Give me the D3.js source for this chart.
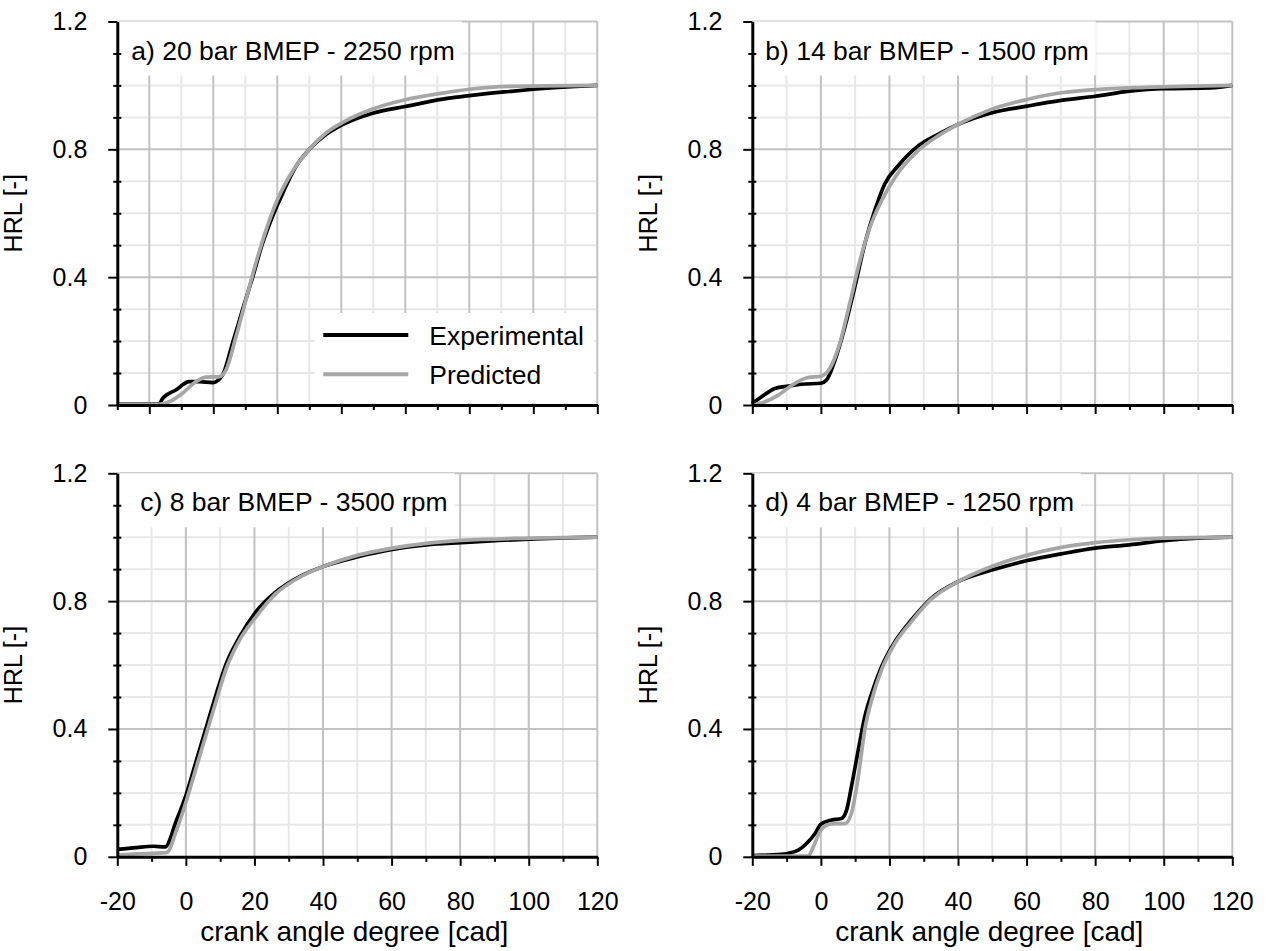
<!DOCTYPE html>
<html>
<head>
<meta charset="utf-8">
<script src="https://cdn.jsdelivr.net/npm/d3@7"></script>
<style>
  body { margin: 0; background: #fff; }
  text { font-family: "Liberation Sans", Arial, sans-serif; fill: #000; }
</style>
</head>
<body>
<div id="chart"></div>
<script>
// crank angle [cad], heat release fraction [-]
var expA = [[-30,0.003],[-17,0.003],[-15.8,0.021],[-11.7,0.047],[-7.5,0.073],[-4.4,0.073],[-0.2,0.07],[2.9,0.094],[6,0.193],[9.2,0.30],[12.3,0.40],[15.4,0.506],[18.5,0.59],[21.7,0.663],[25.8,0.746],[30,0.80],[35.2,0.846],[40.4,0.877],[49.8,0.913],[60,0.934],[71.7,0.957],[80,0.968],[92.5,0.981],[100,0.988],[113.3,0.997],[120,1.0]];
var predA = [[-30,0.002],[-16.9,0.002],[-13.75,0.01],[-9.6,0.037],[-5.4,0.073],[-2.3,0.087],[1.9,0.089],[4,0.11],[7.1,0.214],[10.2,0.329],[13.3,0.444],[16.5,0.548],[19.6,0.632],[23.75,0.715],[30,0.80],[35.2,0.851],[40.4,0.884],[49.8,0.926],[60,0.955],[71.7,0.976],[80,0.988],[92.5,0.997],[120,1.0]];

var expB = [[-20,0.005],[-17.3,0.026],[-13.4,0.052],[-9.5,0.059],[-5.6,0.065],[0,0.068],[1.65,0.078],[4.1,0.14],[7,0.244],[9.9,0.369],[12.8,0.504],[15.7,0.608],[18.6,0.691],[22.5,0.748],[28.3,0.81],[34.2,0.847],[40,0.878],[49.7,0.914],[60.1,0.935],[70.1,0.953],[80,0.966],[90,0.982],[100,0.99],[113.8,0.992],[120,1.0]];
var predB = [[-20,0.0],[-16.3,0.01],[-12.4,0.031],[-7.6,0.068],[-3.7,0.086],[0,0.09],[2.6,0.114],[5.5,0.192],[8.4,0.317],[11.4,0.452],[14.3,0.556],[17.7,0.639],[21.6,0.712],[28.3,0.795],[34.2,0.842],[40,0.878],[49.7,0.925],[60.1,0.956],[70.1,0.977],[80,0.987],[94.4,0.994],[120,1.0]];

var expC = [[-20,0.023],[-14.4,0.029],[-9.5,0.033],[-6.1,0.031],[-2.7,0.115],[0.2,0.198],[3.1,0.303],[6,0.407],[8.9,0.511],[11.8,0.605],[15.7,0.689],[20.1,0.762],[26.4,0.83],[33.2,0.877],[40,0.908],[50.2,0.939],[60.2,0.962],[70.1,0.976],[80.3,0.983],[100.2,0.994],[120,1.0]];
var predC = [[-20,0.005],[-12.4,0.01],[-5.6,0.013],[-2.7,0.084],[0.2,0.177],[3.1,0.282],[6,0.386],[8.9,0.49],[11.8,0.59],[15.7,0.679],[20.1,0.746],[26.4,0.825],[33.2,0.875],[40,0.908],[50.2,0.944],[60.2,0.966],[70.1,0.981],[80.3,0.99],[100.2,0.997],[120,1.0]];

var expD = [[-20,0.004],[-11.5,0.008],[-6.6,0.021],[-3.7,0.047],[-1.7,0.073],[0,0.102],[3.1,0.115],[6,0.12],[7.5,0.146],[8.9,0.219],[10.9,0.334],[12.8,0.438],[14.8,0.511],[17.7,0.595],[21.6,0.673],[26.4,0.741],[32.2,0.809],[40,0.861],[50.2,0.898],[60.2,0.927],[70.1,0.948],[80,0.966],[90,0.976],[100,0.989],[109.9,0.997],[120,1.0]];
var predD = [[-20,0.002],[-3.7,0.002],[-2.2,0.031],[-0.3,0.078],[1.65,0.099],[4.1,0.104],[7,0.104],[8.9,0.136],[10.9,0.25],[12.8,0.397],[14.8,0.49],[17.7,0.585],[21.6,0.668],[26.4,0.736],[32.2,0.806],[40,0.861],[50.2,0.91],[60.2,0.944],[70.1,0.968],[80,0.983],[90,0.992],[100,0.997],[120,1.0]];

var titles = ["a) 20 bar BMEP - 2250 rpm", "b) 14 bar BMEP - 1500 rpm", "c) 8 bar BMEP - 3500 rpm", "d) 4 bar BMEP - 1250 rpm"];
var xTickLabels = [-20, 0, 20, 40, 60, 80, 100, 120];
var yTickLabels = [0, 0.4, 0.8, 1.2];
var seriesNames = ["Experimental", "Predicted"];

var width = 1267, height = 951,
    pw = 480, ph = 383.5,
    blk = "#000", gry = "#a6a6a6";

var panels = [
  {x0: 117.3, y0: 21.5,  xmin: -30, exp: expA, pred: predA, title: titles[0], tdx: 14, legend: true,  bottom: false},
  {x0: 752.3, y0: 21.5,  xmin: -20, exp: expB, pred: predB, title: titles[1], tdx: 13, legend: false, bottom: false},
  {x0: 117.3, y0: 473.3, xmin: -20, exp: expC, pred: predC, title: titles[2], tdx: 23, legend: false, bottom: true},
  {x0: 752.3, y0: 473.3, xmin: -20, exp: expD, pred: predD, title: titles[3], tdx: 13, legend: false, bottom: true}
];

var svg = d3.select("#chart").append("svg")
    .attr("width", width)
    .attr("height", height);

panels.forEach(function(p) {
  var x = d3.scaleLinear().domain([p.xmin, 120]).range([0, pw]);
  var y = d3.scaleLinear().domain([0, 1.2]).range([ph, 0]);

  var g = svg.append("g").attr("transform", "translate(" + p.x0 + "," + p.y0 + ")");

  var xs = d3.range(p.xmin + 10, 121, 10);
  var ys = d3.range(1, 13).map(function(i) { return i / 10; });
  var isMajX = function(v) { return v % 20 === 0; };
  var isMajY = function(v) { return Math.round(v * 10) % 4 === 0; };

  // minor grid first, then major on top
  [false, true].forEach(function(maj) {
    g.selectAll(null).data(xs.filter(function(v) { return isMajX(v) === maj; }))
      .enter().append("line")
      .attr("x1", function(d) { return x(d); }).attr("x2", function(d) { return x(d); })
      .attr("y1", 0).attr("y2", ph)
      .attr("stroke", maj ? "#c2c2c2" : "#e8e8e8").attr("stroke-width", 2);
    g.selectAll(null).data(ys.filter(function(v) { return isMajY(v) === maj; }))
      .enter().append("line")
      .attr("x1", 0).attr("x2", pw)
      .attr("y1", function(d) { return y(d); }).attr("y2", function(d) { return y(d); })
      .attr("stroke", maj ? "#c2c2c2" : "#e8e8e8").attr("stroke-width", 2);
  });

  // title with white box
  var t = g.append("text")
    .attr("x", p.tdx).attr("y", 38)
    .attr("font-size", "26.5px")
    .text(p.title);
  var bb = t.node().getBBox();
  g.insert("rect", "text")
    .attr("x", 1).attr("y", 0)
    .attr("width", bb.x + bb.width + 6).attr("height", 54)
    .attr("fill", "#fff");

  if (p.legend) {
    g.append("rect")
      .attr("x", 198).attr("y", 291.5).attr("width", 279).attr("height", 90)
      .attr("fill", "#fff");
    seriesNames.forEach(function(name, i) {
      var ly = 313.5 + i * 39.3;
      g.append("line")
        .attr("x1", 206).attr("x2", 291).attr("y1", ly).attr("y2", ly)
        .attr("stroke", i === 0 ? blk : gry).attr("stroke-width", 4);
      g.append("text")
        .attr("x", 312).attr("y", ly + 9.5)
        .attr("font-size", "26.5px")
        .text(name);
    });
  }

  var line = d3.line()
    .x(function(d) { return x(d[0]); })
    .y(function(d) { return y(d[1]); })
    .curve(d3.curveMonotoneX);

  g.append("path").datum(p.exp)
    .attr("d", line).attr("fill", "none")
    .attr("stroke", blk).attr("stroke-width", 3.7).attr("stroke-linejoin", "round");
  g.append("path").datum(p.pred)
    .attr("d", line).attr("fill", "none")
    .attr("stroke", gry).attr("stroke-width", 3.7).attr("stroke-linejoin", "round");

  // x axis: minor ticks, then major with labels
  var xMinor = g.append("g").attr("transform", "translate(0," + ph + ")")
    .call(d3.axisBottom(x).tickValues(d3.range(p.xmin, 121, 10).filter(function(v) { return !isMajX(v); }))
      .tickSize(5).tickSizeOuter(0).tickFormat(""));
  xMinor.select(".domain").remove();

  var xAxis = g.append("g").attr("transform", "translate(0," + ph + ")")
    .call(d3.axisBottom(x).tickValues(xTickLabels.filter(function(v) { return v >= p.xmin; }))
      .tickSize(9).tickSizeOuter(0).tickPadding(26)
      .tickFormat(function(d) { return p.bottom ? String(d) : ""; }));
  xAxis.select(".domain").attr("stroke-width", 3);

  // y axis
  var yMinor = g.append("g")
    .call(d3.axisLeft(y).tickValues(ys.filter(function(v) { return !isMajY(v); }))
      .tickSize(4).tickSizeOuter(0).tickFormat(""));
  yMinor.select(".domain").remove();
  yMinor.selectAll(".tick line").attr("x1", 4);

  var yAxis = g.append("g")
    .call(d3.axisLeft(y).tickValues(yTickLabels)
      .tickSize(9).tickSizeOuter(0).tickPadding(21)
      .tickFormat(function(d) { return d === 0 ? "0" : d3.format(".1f")(d); }));
  yAxis.select(".domain").attr("stroke-width", 3);

  [xMinor, xAxis, yMinor, yAxis].forEach(function(a) {
    a.selectAll(".tick line").attr("stroke", "#000").attr("stroke-width", 2);
    a.selectAll("text").attr("font-size", "25px").attr("font-family", "Liberation Sans, Arial, sans-serif").attr("fill", "#000");
  });
  xAxis.select(".domain").attr("stroke", "#000");
  yAxis.select(".domain").attr("stroke", "#000");

  g.append("text")
    .attr("transform", "translate(" + (-95) + "," + (ph / 2) + ") rotate(-90)")
    .attr("text-anchor", "middle")
    .attr("font-size", "25px")
    .text("HRL [-]");

  if (p.bottom) {
    g.append("text")
      .attr("x", pw / 2 - 3).attr("y", ph + 84)
      .attr("text-anchor", "middle")
      .attr("font-size", "28px")
      .text("crank angle degree [cad]");
  }
});
</script>
</body>
</html>
